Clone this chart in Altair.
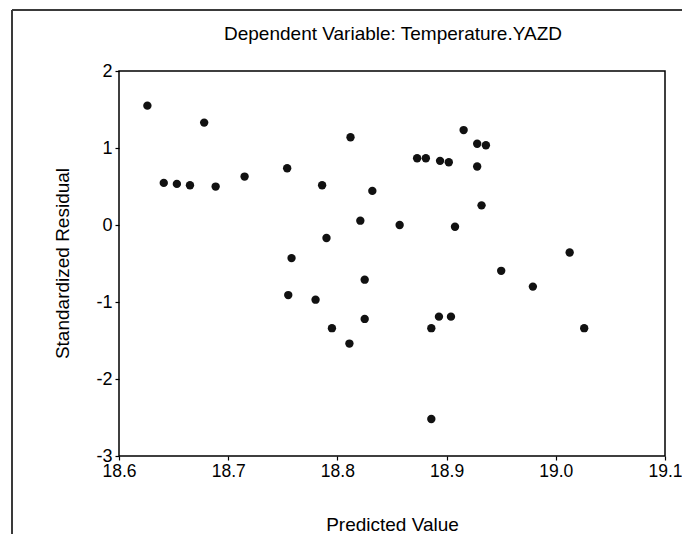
import altair as alt
import pandas as pd

predicted = [18.626, 18.641, 18.653, 18.665, 18.678, 18.6885, 18.715, 18.754, 18.758, 18.755,
             18.780, 18.786, 18.790, 18.795, 18.811, 18.812, 18.821, 18.825, 18.825, 18.832,
             18.857, 18.873, 18.881, 18.886, 18.886, 18.893, 18.894, 18.902, 18.904, 18.9077,
             18.9156, 18.928, 18.936, 18.928, 18.932, 18.950, 18.979, 19.0127, 19.026]
residual = [1.55, 0.547, 0.534, 0.516, 1.33, 0.499, 0.629, 0.737, -0.43, -0.91,
            -0.97, 0.516, -0.169, -1.34, -1.54, 1.14, 0.056, -0.71, -1.22, 0.443,
            0.0, 0.867, 0.867, -1.34, -2.52, -1.19, 0.833, 0.815, -1.19, -0.022,
            1.233, 1.055, 1.036, 0.759, 0.255, -0.595, -0.80, -0.357, -1.34]
x_ticks = [18.6, 18.7, 18.8, 18.9, 19.0, 19.1]
y_ticks = [-3, -2, -1, 0, 1, 2]

title_text = "Dependent Variable: Temperature.YAZD"
x_title = "Predicted Value"
y_title = "Standardized Residual"

df = pd.DataFrame({"pred": predicted, "res": residual})

FONT = "Liberation Sans"
FS = 18
XFS = 17.5
TFS = 19

points = alt.Chart(df).mark_circle(size=70, color="#111111", opacity=1).encode(
    x=alt.X("pred:Q",
            scale=alt.Scale(domain=[18.6, 19.1], nice=False, zero=False),
            axis=alt.Axis(values=x_ticks, labelExpr="format(datum.value, '.1f')",
                          title=x_title, grid=False, domain=False,
                          tickSize=4, tickColor="black", tickWidth=1.2,
                          labelFont=FONT, labelFontSize=XFS, labelColor="black",
                          labelPadding=2, labelFlush=False,
                          titleFont=FONT, titleFontSize=TFS, titleFontWeight="normal",
                          titleColor="black", titleY=68, titleBaseline="middle")),
    y=alt.Y("res:Q",
            scale=alt.Scale(domain=[-3, 2], nice=False, zero=False),
            axis=alt.Axis(values=y_ticks, labelExpr="'' + datum.value",
                          title=y_title, grid=False, domain=False,
                          tickSize=4, tickColor="black", tickWidth=1.2,
                          labelFont=FONT, labelFontSize=FS, labelColor="black",
                          labelPadding=3, labelFlush=False,
                          titleFont=FONT, titleFontSize=TFS, titleFontWeight="normal",
                          titleColor="black", titleX=-57, titleY=192,
                          titleAngle=270, titleAlign="center", titleBaseline="middle")),
)

frame_df = pd.DataFrame({"k": [0]})
top_line = alt.Chart(frame_df).mark_rule(color="#3a3a3a", strokeWidth=2).encode(
    x=alt.value(-107), x2=alt.value(563), y=alt.value(-61))
left_line = alt.Chart(frame_df).mark_rule(color="#3a3a3a", strokeWidth=2).encode(
    x=alt.value(-107), y=alt.value(-61), y2=alt.value(463))

title_df = pd.DataFrame({"t": [title_text]})
title_mark = alt.Chart(title_df).mark_text(
    font=FONT, fontSize=TFS, color="black", align="center", baseline="middle"
).encode(text="t:N", x=alt.value(274), y=alt.value(-37))

chart = alt.layer(top_line, left_line, title_mark, points).properties(
    width=546, height=385,
    autosize=alt.AutoSizeParams(type="none"),
    padding={"left": 111, "top": 63, "right": 17, "bottom": 78},
).configure(background="white").configure_view(stroke="black", strokeWidth=1.5)

chart.save("out.html", embed_options={"renderer": "svg", "actions": False})
